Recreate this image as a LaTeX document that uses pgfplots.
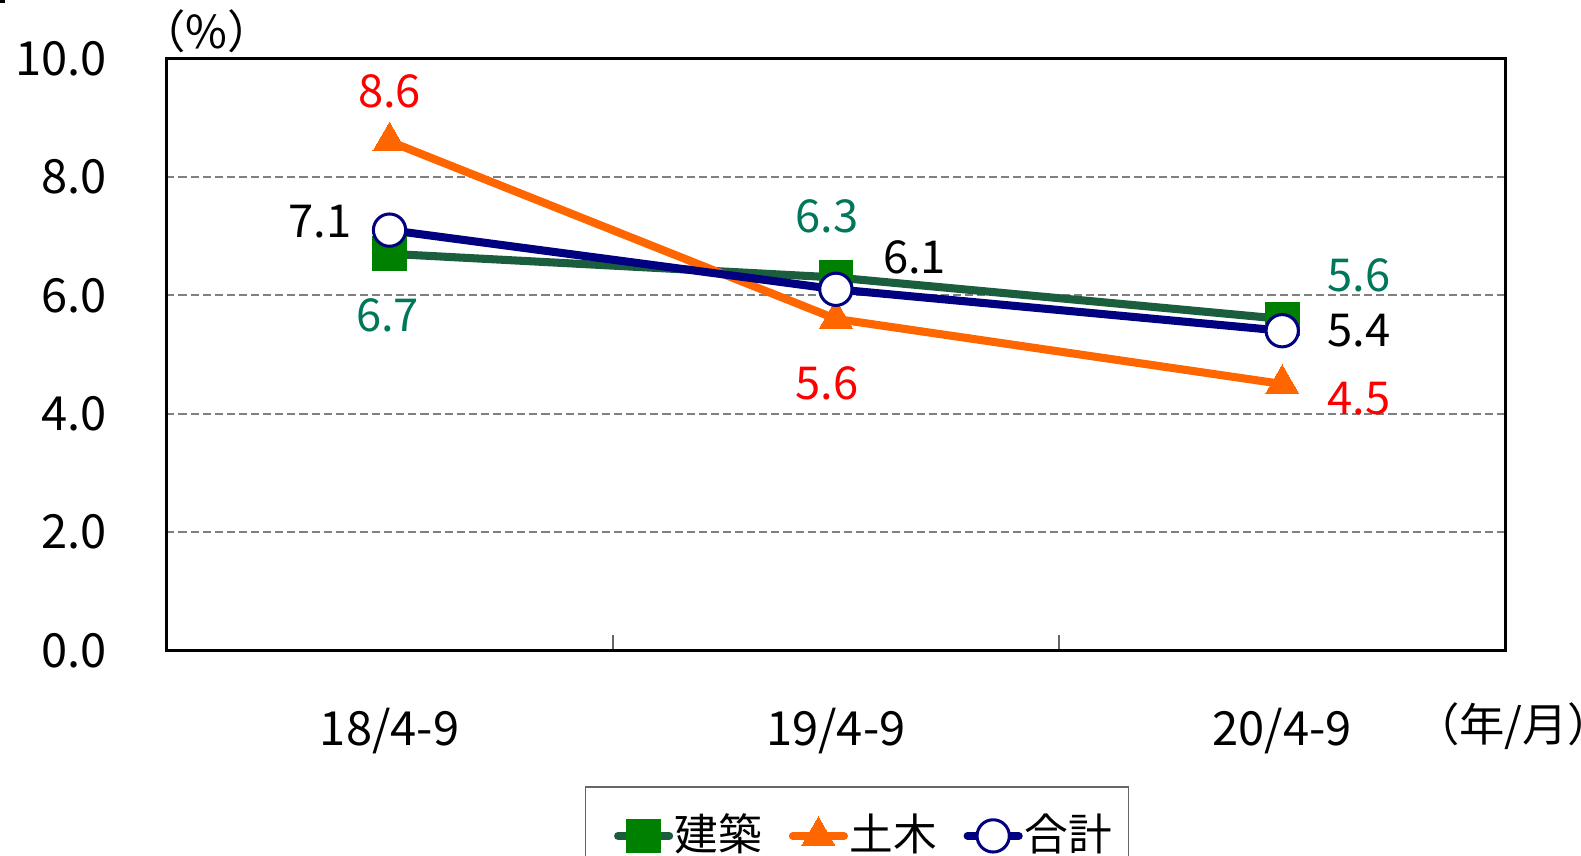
\documentclass[border=0pt]{standalone}
\usepackage{fontspec}
\setmainfont{Noto Sans CJK JP}
\usepackage{pgfplots}
\pgfplotsset{compat=1.18}
\definecolor{gline}{HTML}{1B5E3E}
\definecolor{gmark}{HTML}{008000}
\definecolor{glabel}{HTML}{00775A}
\definecolor{oline}{HTML}{FF6600}
\definecolor{lred}{HTML}{FF0000}
\definecolor{navy}{HTML}{000080}
\begin{document}
\fontsize{13.5}{16}\selectfont
\begin{tikzpicture}
\begin{axis}[
  at={(49.5pt,60.9pt)}, anchor=south west,
  scale only axis, width=398.4pt, height=176.1pt,
  xmin=-0.5, xmax=2.5, ymin=0, ymax=10,
  clip=false,
  axis line style={line width=0.9pt},
  xtick={0,1,2}, xticklabels={18/4-9,19/4-9,20/4-9},
  minor xtick={0.5,1.5},
  major tick length=0pt, minor tick length=4.5pt,
  tick align=inside, xtick pos=bottom, ytick pos=left,
  minor tick style={black!60, line width=0.6pt},
  ytick={0,2,4,6,8,10},
  yticklabel style={xshift=-13pt, font=\fontsize{14}{16}\selectfont},
  xticklabel style={yshift=-12.6pt, font=\fontsize{14}{16}\selectfont},
  /pgf/number format/assume math mode=true,
  /pgf/number format/.cd, fixed, fixed zerofill, precision=1, /pgfplots/.cd,
  ymajorgrids, major grid style={gray, line width=0.6pt, dash pattern=on 2.4pt off 1.2pt},
  legend columns=3,
  legend style={at={(axis description cs:0.3125,-0.23)}, anchor=north west,
    draw=black!60, line width=0.4pt, font=\fontsize{13}{15}\selectfont,
    inner xsep=8.5pt, inner ysep=6pt,
    /tikz/every even column/.append style={column sep=5.9pt}},
  legend image code/.code={\draw[mark repeat=2, mark phase=2, line cap=round] plot coordinates {(0pt,0pt) (7.6pt,0pt) (15.2pt,0pt)};},
]
\addplot[gline, line width=2.4pt, line join=round, mark=square*, mark size=5pt,
  mark options={fill=gmark, draw=gmark, line width=0pt}]
  coordinates {(0,6.7) (1,6.3) (2,5.6)};
\addlegendentry{\hspace{-1.5pt}建築}
\addplot[oline, line width=2.4pt, line join=round, mark=triangle*, mark size=5.7pt,
  mark options={fill=oline, draw=oline, line width=0pt}]
  coordinates {(0,8.6) (1,5.6) (2,4.5)};
\addlegendentry{\hspace{-1.5pt}土木}
\addplot[navy, line width=2.4pt, line join=round, mark=*, mark size=4.8pt,
  mark options={fill=white, draw=navy, line width=0.9pt}]
  coordinates {(0,7.1) (1,6.1) (2,5.4)};
\addlegendentry{\hspace{-1.5pt}合計\kern-5.5pt}
% data labels
\node[text=glabel, yshift=-18.3pt, xshift=-0.6pt] at (axis cs:0,6.7) {6.7};
\node[text=glabel, yshift=18.3pt, xshift=-2.7pt] at (axis cs:1,6.3) {6.3};
\node[text=glabel, yshift=13pt, xshift=22.8pt] at (axis cs:2,5.6) {5.6};
\node[text=lred, yshift=15pt] at (axis cs:0,8.6) {8.6};
\node[text=lred, yshift=-19.2pt, xshift=-2.7pt] at (axis cs:1,5.6) {5.6};
\node[text=lred, yshift=-4.2pt, xshift=22.8pt] at (axis cs:2,4.5) {4.5};
\node[text=black, yshift=2.4pt, xshift=-20.7pt] at (axis cs:0,7.1) {7.1};
\node[text=black, yshift=9.6pt, xshift=23.4pt] at (axis cs:1,6.1) {6.1};
\node[text=black, xshift=22.8pt] at (axis cs:2,5.4) {5.4};
\end{axis}
\node at (61.5pt,245.1pt) {（\%）};
\node at (443.6pt,38.4pt) {（年/月\rlap{）}};
\fill (0pt,253.4pt) rectangle (1.5pt,254.4pt);
\pgfresetboundingbox
\useasboundingbox (0pt,0pt) rectangle (470.4pt,254.4pt);
\end{tikzpicture}
\end{document}
